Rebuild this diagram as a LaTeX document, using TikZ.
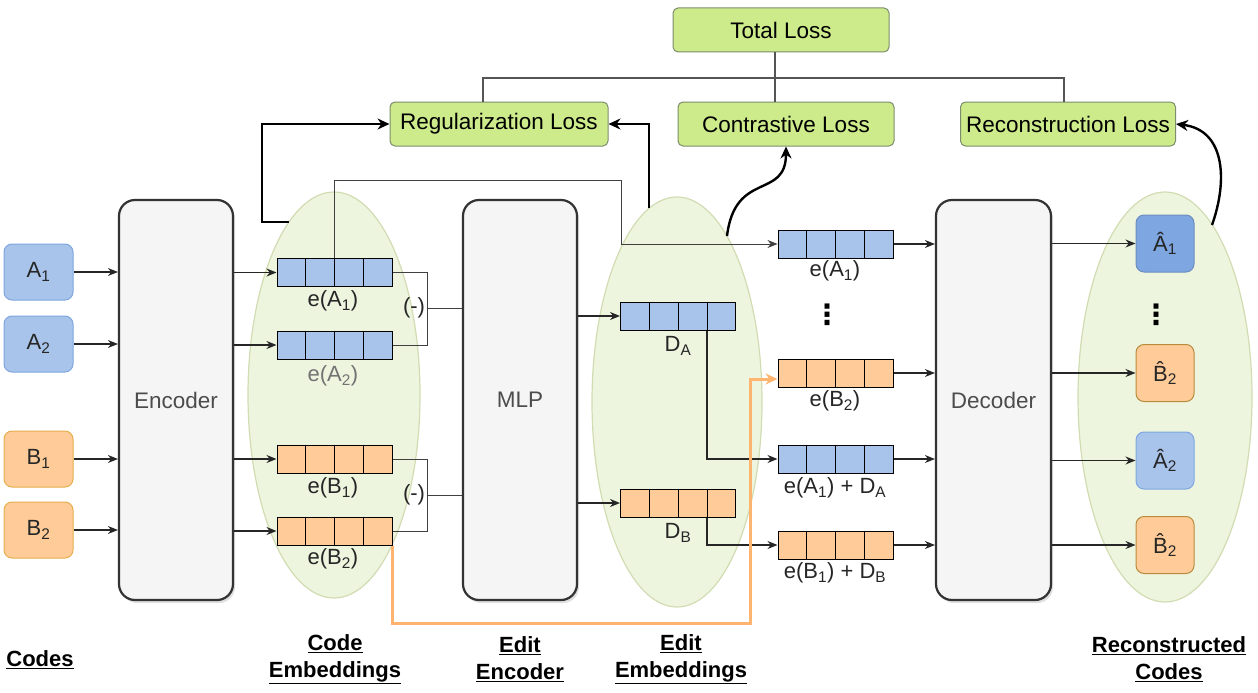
\documentclass[tikz,border=0pt]{standalone}
\usepackage{fontspec}
\setmainfont{Liberation Sans}
\newfontfamily\dejavu{DejaVu Sans}
\usetikzlibrary{calc,shadows,arrows.meta,shapes.geometric}
\definecolor{bluef}{HTML}{A9C4EB}
\definecolor{blued}{HTML}{7EA6E0}
\definecolor{bluedd}{HTML}{6C8EBF}
\definecolor{orangef}{HTML}{FFCC99}
\definecolor{oranged}{HTML}{E6AE4C}
\definecolor{orangeline}{HTML}{FFB570}
\definecolor{lossf}{HTML}{CDEB8B}
\definecolor{lossd}{HTML}{7C8C6C}
\definecolor{ellf}{HTML}{EEF5DF}
\definecolor{elld}{HTML}{D2DCB2}
\definecolor{boxf}{HTML}{F5F5F5}
\definecolor{boxd}{HTML}{333333}
\definecolor{treeline}{HTML}{555555}
\newcommand\subs[1]{\textsubscript{#1}}
\newcommand\ebar[3]{%
  \node[barbox,fill=#3] (#1) at (#2) {};
  \foreach \k in {1,2,3}
    \draw[line width=1pt] ($(#1.north west)!\k/4!(#1.north east)$) -- ($(#1.south west)!\k/4!(#1.south east)$);
}
\begin{document}
\begin{tikzpicture}[x=1pt,y=-1pt,
  every node/.style={font=\fontsize{22}{24}\selectfont, text=black!85},
  inbox/.style={draw, rounded corners=8pt, minimum width=69pt, minimum height=56pt, line width=1pt, inner sep=0pt},
  outbox/.style={draw, rounded corners=8pt, minimum width=58pt, minimum height=57pt, line width=1pt, inner sep=0pt},
  bigbox/.style={draw=boxd, fill=boxf, rounded corners=16pt, line width=2.2pt, minimum width=114pt, minimum height=400pt,
     drop shadow={opacity=0.25, shadow xshift=2pt, shadow yshift=-3pt}, font=\fontsize{22.5}{24}\selectfont, text=black!70},
  barbox/.style={draw, line width=1pt, minimum width=115pt, minimum height=28pt, inner sep=0pt},
  lossbox/.style={draw=lossd, fill=lossf, rounded corners=5pt, line width=1pt, minimum height=44pt, inner sep=0pt, text=black, font=\fontsize{22.5}{24}\selectfont},
  embell/.style={ellipse, draw=elld, fill=ellf, line width=1.2pt, inner sep=0pt},
  arr/.style={line width=1.2pt, draw=black!85, -{Stealth[length=10pt,width=8pt]}},
  thinl/.style={line width=0.9pt, draw=black!75},
  thickarr/.style={line width=2.4pt, draw=black, -{Stealth[length=12pt,width=11pt]}},
  oarr/.style={line width=3pt, draw=orangeline, -{Stealth[length=12pt,width=11pt]}},
  tree/.style={line width=2pt, draw=treeline},
  lab/.style={font=\fontsize{22}{27}\selectfont\bfseries, align=center, text=black},
  vdot/.style={font=\fontsize{28}{28}\selectfont\dejavu\bfseries, inner sep=0pt, text=black},
]
\useasboundingbox (0,0) rectangle (1258,693);

% ellipses
\node[embell, minimum width=172pt, minimum height=406pt] (cel) at (334,395) {};
\node[embell, minimum width=170pt, minimum height=410pt] (eel) at (677,402) {};
\node[embell, minimum width=174pt, minimum height=410pt] (rel) at (1165,397) {};

% inputs
\node[inbox, fill=bluef, draw=blued] (A1) at (38.5,272) {A\subs{1}};
\node[inbox, fill=bluef, draw=blued] (A2) at (38.5,344) {A\subs{2}};
\node[inbox, fill=orangef, draw=oranged] (B1) at (38.5,459) {B\subs{1}};
\node[inbox, fill=orangef, draw=oranged] (B2) at (38.5,530) {B\subs{2}};

% big boxes
\node[bigbox] (enc) at (176,400) {Encoder};
\node[bigbox] (mlp) at (520,400) {MLP};
\node[bigbox, minimum width=115pt] (dec) at (993.5,400) {Decoder};

% code embeddings
\ebar{eA1}{334.5,272.5}{bluef}
\ebar{eA2}{334.5,345}{bluef}
\ebar{eB1}{334.5,459}{orangef}
\ebar{eB2}{334.5,531}{orangef}
\node (leA1) at (333,301) {e(A\subs{1})};
\node[text=black!55] (leA2) at (333,376) {e(A\subs{2})};
\node (leB1) at (333,488) {e(B\subs{1})};
\node (leB2) at (333,559) {e(B\subs{2})};

% edit embeddings
\ebar{DA}{678,316}{bluef}
\ebar{DB}{678,503}{orangef}
\node (lDA) at (678,346) {D\subs{A}};
\node (lDB) at (678,533) {D\subs{B}};

% middle bars
\ebar{mA1}{835.5,244}{bluef}
\ebar{mB2}{835.5,373}{orangef}
\ebar{mAD}{835.5,459}{bluef}
\ebar{mBD}{835.5,545}{orangef}
\node (lmA1) at (835,271) {e(A\subs{1})};
\node (lmB2) at (835,401) {e(B\subs{2})};
\node (lmAD) at (835,488) {e(A\subs{1}) + D\subs{A}};
\node (lmBD) at (835,573) {e(B\subs{1}) + D\subs{B}};
\node[vdot] (dots1) at (827,315) {⋮};

% outputs
\node[outbox, fill=blued, draw=bluedd] (rA1) at (1165,243.5) {Â\subs{1}};
\node[outbox, fill=orangef, draw=oranged!80!black] (rB2) at (1165,373) {B̂\subs{2}};
\node[outbox, fill=bluef, draw=blued] (rA2) at (1165,460.5) {Â\subs{2}};
\node[outbox, fill=orangef, draw=oranged!80!black] (rB2b) at (1165,545) {B̂\subs{2}};
\node[vdot] (dots2) at (1156,315) {⋮};

% losses
\node[lossbox, minimum width=216pt] (total) at (781,30) {Total Loss};
\node[lossbox, minimum width=218pt] (reg) at (499,124) {Regularization Loss};
\node[lossbox, minimum width=216pt] (con) at (786,124) {Contrastive Loss};
\node[lossbox, minimum width=215pt] (rec) at (1068,124) {Reconstruction Loss};

% tree
\coordinate (hb) at (0,78);
\draw[tree] ($(reg.north)+(-16,0)$) -- ($(reg.north |- hb)+(-16,0)$) -- ($(rec.north |- hb)+(-4,0)$) -- ($(rec.north)+(-4,0)$);
\draw[tree] ($(total.south)+(-6,0)$) -- ($(con.north)+(-11,0)$);

% inputs to encoder
\foreach \n in {A1,A2,B1,B2} \draw[arr] (\n.east) -- (\n.east -| enc.west);
% encoder to bars
\foreach \n in {eA1,eA2,eB1,eB2} \draw[arr] (enc.east |- \n) -- (\n.west);

% brackets
\coordinate (bA) at (427,308.5);
\coordinate (bB) at (427,495);
\draw[thinl] (eA1.east) -- (eA1.east -| bA) -- (eA2.east -| bA) -- (eA2.east);
\draw[thinl] (eB1.east) -- (eB1.east -| bB) -- (eB2.east -| bB) -- (eB2.east);
\draw[thinl] (bA) -- (bA -| mlp.west);
\draw[thinl] (bB) -- (bB -| mlp.west);
\node (mA) at (414,308) {(-)};
\node (mB) at (414,495) {(-)};

% mlp to D
\draw[arr] (mlp.east |- DA) -- (DA.west);
\draw[arr] (mlp.east |- DB) -- (DB.west);

% e(A1) skip link
\coordinate (t1) at (334.5,180);
\coordinate (t2) at (621,180);
\draw[thinl, -{Stealth[length=10pt,width=8pt]}] (eA1.north) -- (eA1.north |- t1) -- (t2) -- (t2 |- mA1) -- (mA1.west);

% D links
\draw[arr] ($(DA.south west)!0.75!(DA.south east)$) |- (mAD.west);
\draw[arr] ($(DB.south west)!0.75!(DB.south east)$) |- (mBD.west);

% orange link
\coordinate (o2) at (750,623);
\coordinate (o3) at (750,379);
\draw[oarr] (eB2.south east) -- (eB2.south east |- o2) -- (o2) -- (o3) -- (o3 -| mB2.west);

% middle to decoder
\foreach \n in {mA1,mB2,mAD,mBD} \draw[arr] (\n.east) -- (\n.east -| dec.west);
% decoder to outputs
\foreach \n in {rA1,rB2,rA2,rB2b} \draw[arr] (dec.east |- \n) -- (\n.west);

% thick arrows to losses
\coordinate (c1) at (289,222);
\draw[thickarr] (c1) -- (262,222) -- (262,124) -- (reg.west);
\coordinate (c2) at (649,208);
\draw[thickarr] (c2) -- (649,124) -- (reg.east);
\coordinate (c3) at (727,236);
\draw[thickarr] (c3) .. controls (735,170) and (786,200) .. (con.south);
\coordinate (c4) at (1212,225);
\draw[thickarr] (c4) .. controls (1228,180) and (1225,130) .. (rec.east);

% bottom labels
\node[lab] (Lcodes) at (40,660) {\underline{Codes}};
\node[lab] (Lce) at (335,659) {\underline{Code}\\\underline{Embeddings}};
\node[lab] (Lee) at (520,659) {\underline{Edit}\\\underline{Encoder}};
\node[lab] (Lem) at (681,659) {\underline{Edit}\\\underline{Embeddings}};
\node[lab] (Lrc) at (1169,659) {\underline{Reconstructed}\\\underline{Codes}};
\end{tikzpicture}
\end{document}
